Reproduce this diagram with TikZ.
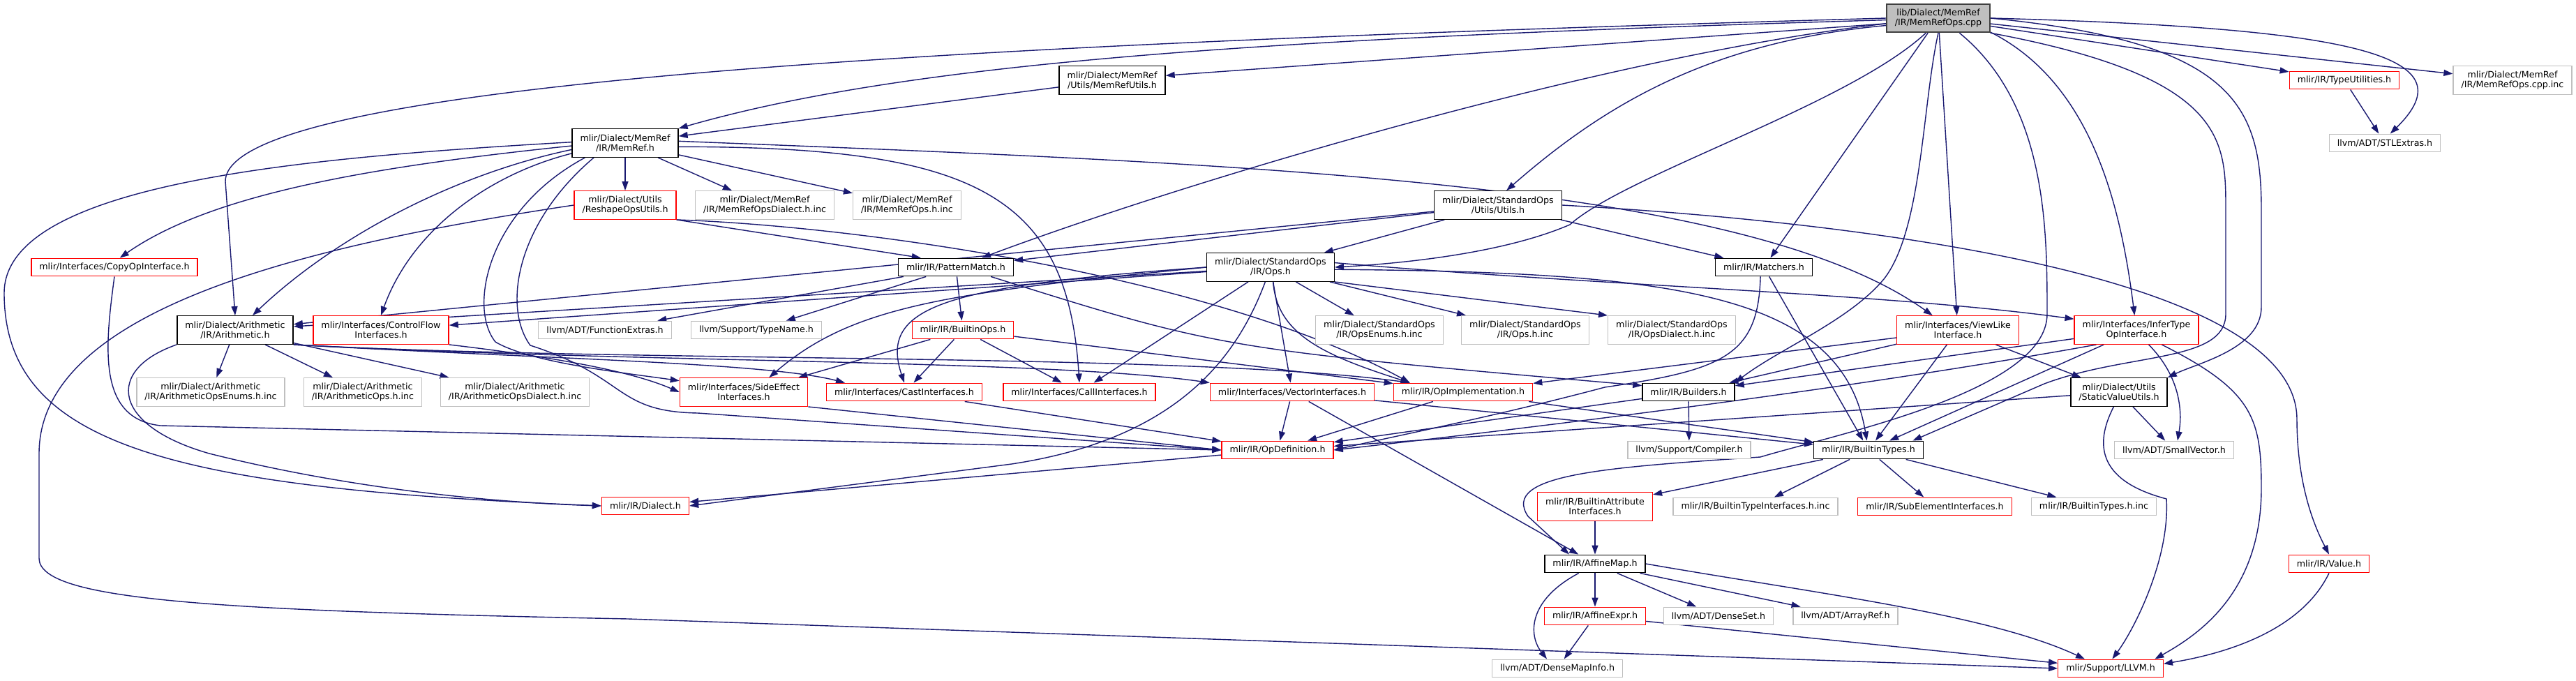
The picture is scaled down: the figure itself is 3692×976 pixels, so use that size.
\documentclass[tikz,border=0pt]{standalone}
\usepackage{fontspec}
\setmainfont{DejaVu Sans}
\usetikzlibrary{arrows.meta,backgrounds}
\definecolor{edgeBlue}{HTML}{191970}
\definecolor{cutRed}{HTML}{FF0000}
\definecolor{extGrey}{HTML}{BFBFBF}
\definecolor{rootGrey}{HTML}{BFBFBF}
\definecolor{rootEdge}{HTML}{404040}
\tikzset{
  hfile/.style={rectangle, align=center, inner xsep=0.115cm, inner ysep=0.03cm, minimum height=0.255cm, fill=white, line width=0.4pt, font=\fontsize{3.6pt}{3.98pt}\selectfont},
  docNode/.style={hfile, draw=black},
  cutNode/.style={hfile, draw=cutRed},
  extNode/.style={hfile, draw=extGrey},
  rootNode/.style={hfile, draw=rootEdge, fill=rootGrey, line width=0.55pt},
  twoRow/.style={minimum height=0.405cm},
  incl/.style={draw=edgeBlue, line width=0.4pt, -{Triangle[length=1.3mm,width=0.9mm]}}
}
\begin{document}
\begin{tikzpicture}[x=0.01cm,y=-0.01cm]
  \useasboundingbox (0,0) rectangle (3692,976);

  \node[rootNode,twoRow] (root) at (2778,26) {lib/Dialect/MemRef\\/IR/MemRefOps.cpp};
  \node[docNode,twoRow] (memrefutils) at (1594,115) {mlir/Dialect/MemRef\\/Utils/MemRefUtils.h};
  \node[cutNode] (typeutils) at (3360,115) {mlir/IR/TypeUtilities.h};
  \node[extNode,twoRow] (opscppinc) at (3601,115) {mlir/Dialect/MemRef\\/IR/MemRefOps.cpp.inc};
  \node[extNode] (stlextras) at (3418,205) {llvm/ADT/STLExtras.h};
  \node[docNode,twoRow] (memref) at (896,205) {mlir/Dialect/MemRef\\/IR/MemRef.h};
  \node[cutNode,twoRow] (reshape) at (896,294) {mlir/Dialect/Utils\\/ReshapeOpsUtils.h};
  \node[extNode,twoRow] (mrdialectinc) at (1096,294) {mlir/Dialect/MemRef\\/IR/MemRefOpsDialect.h.inc};
  \node[extNode,twoRow] (mropsinc) at (1300,294) {mlir/Dialect/MemRef\\/IR/MemRefOps.h.inc};
  \node[docNode,twoRow] (stdutils) at (2147,294) {mlir/Dialect/StandardOps\\/Utils/Utils.h};
  \node[cutNode] (copyop) at (164,383) {mlir/Interfaces/CopyOpInterface.h};
  \node[docNode] (patmatch) at (1370,383) {mlir/IR/PatternMatch.h};
  \node[docNode,twoRow] (stdops) at (1821,383) {mlir/Dialect/StandardOps\\/IR/Ops.h};
  \node[docNode] (matchers) at (2528,383) {mlir/IR/Matchers.h};
  \node[docNode,twoRow] (arith) at (337,473) {mlir/Dialect/Arithmetic\\/IR/Arithmetic.h};
  \node[cutNode,twoRow] (ctrlflow) at (546,473) {mlir/Interfaces/ControlFlow\\Interfaces.h};
  \node[extNode] (funcextras) at (867,473) {llvm/ADT/FunctionExtras.h};
  \node[extNode] (typename) at (1084,473) {llvm/Support/TypeName.h};
  \node[cutNode] (builtinops) at (1380,473) {mlir/IR/BuiltinOps.h};
  \node[extNode,twoRow] (opsenums) at (1977,473) {mlir/Dialect/StandardOps\\/IR/OpsEnums.h.inc};
  \node[extNode,twoRow] (opsinc) at (2186,473) {mlir/Dialect/StandardOps\\/IR/Ops.h.inc};
  \node[extNode,twoRow] (opsdialect) at (2396,473) {mlir/Dialect/StandardOps\\/IR/OpsDialect.h.inc};
  \node[cutNode,twoRow] (viewlike) at (2806,473) {mlir/Interfaces/ViewLike\\Interface.h};
  \node[cutNode,twoRow] (infertype) at (3062,473) {mlir/Interfaces/InferType\\OpInterface.h};
  \node[extNode,twoRow] (arenums) at (302,562) {mlir/Dialect/Arithmetic\\/IR/ArithmeticOpsEnums.h.inc};
  \node[extNode,twoRow] (arops) at (520,562) {mlir/Dialect/Arithmetic\\/IR/ArithmeticOps.h.inc};
  \node[extNode,twoRow] (ardialect) at (738,562) {mlir/Dialect/Arithmetic\\/IR/ArithmeticOpsDialect.h.inc};
  \node[cutNode,twoRow] (sideeffect) at (1066,562) {mlir/Interfaces/SideEffect\\Interfaces.h};
  \node[cutNode] (castif) at (1296,562) {mlir/Interfaces/CastInterfaces.h};
  \node[cutNode] (callif) at (1547,562) {mlir/Interfaces/CallInterfaces.h};
  \node[cutNode] (vectorif) at (1852,562) {mlir/Interfaces/VectorInterfaces.h};
  \node[cutNode] (opimpl) at (2097,562) {mlir/IR/OpImplementation.h};
  \node[docNode] (builders) at (2420,562) {mlir/IR/Builders.h};
  \node[docNode,twoRow] (staticval) at (3037,562) {mlir/Dialect/Utils\\/StaticValueUtils.h};
  \node[cutNode] (opdef) at (1831,645) {mlir/IR/OpDefinition.h};
  \node[extNode] (compiler) at (2421,645) {llvm/Support/Compiler.h};
  \node[docNode] (btypes) at (2678,645) {mlir/IR/BuiltinTypes.h};
  \node[extNode] (smallvec) at (3116,645) {llvm/ADT/SmallVector.h};
  \node[cutNode] (dialect) at (925,725) {mlir/IR/Dialect.h};
  \node[cutNode,twoRow] (battrif) at (2286,726) {mlir/IR/BuiltinAttribute\\Interfaces.h};
  \node[extNode] (btypeifinc) at (2516,726) {mlir/IR/BuiltinTypeInterfaces.h.inc};
  \node[cutNode] (subelem) at (2773,726) {mlir/IR/SubElementInterfaces.h};
  \node[extNode] (btypesinc) at (3001,726) {mlir/IR/BuiltinTypes.h.inc};
  \node[docNode] (affmap) at (2286,808) {mlir/IR/AffineMap.h};
  \node[cutNode] (value) at (3338,808) {mlir/IR/Value.h};
  \node[cutNode] (affexpr) at (2286,883) {mlir/IR/AffineExpr.h};
  \node[extNode] (denseset) at (2463,883) {llvm/ADT/DenseSet.h};
  \node[extNode] (arrayref) at (2645,883) {llvm/ADT/ArrayRef.h};
  \node[extNode] (densemap) at (2232,958) {llvm/ADT/DenseMapInfo.h};
  \node[cutNode] (llvmh) at (3025,958) {mlir/Support/LLVM.h};

  \begin{pgfonlayer}{background}
  % MemRefOps.cpp
  \draw[incl] (root.west) .. controls (1500,60) and (323,110) .. (323,260) -- (arith.north);
  \draw[incl] (root.182) .. controls (1800,55) and (1300,90) .. (memref.north east);
  \draw[incl] (root.186) -- (memrefutils.5);
  \draw[incl] (root.186) .. controls (2300,80) and (1700,260) .. (patmatch.20);
  \draw[incl] (root.188) .. controls (2450,60) and (2300,150) .. (stdutils.60);
  \draw[incl] (root.230) .. controls (2650,150) and (2330,250) .. (2250,322) .. controls (2150,365) and (2000,378) .. (stdops.east);
  \draw[incl] (root) -- (matchers);
  \draw[incl] (root) -- (viewlike);
  \draw[incl] (root.-15) .. controls (3000,120) and (3040,300) .. (infertype);
  \draw[incl] (root) -- (typeutils);
  \draw[incl] (root) -- (opscppinc);
  \draw[incl] (root.east) .. controls (3380,40) and (3540,80) .. (stlextras.60);
  \draw[incl] (root.south) .. controls (2755,150) and (2755,330) .. (2700,400) .. controls (2650,460) and (2550,500) .. (builders.north east);
  \draw[incl] (root.south east) .. controls (3190,110) and (3190,200) .. (3190,300) -- (3190,450) .. controls (3190,520) and (3050,505) .. (2930,550) -- (btypes.12);
  \draw[incl] (root.east) .. controls (3200,60) and (3241,150) .. (3241,300) -- (3241,440) .. controls (3241,500) and (3150,520) .. (staticval.north east);
  \draw[incl] (root.-35) .. controls (2934,150) and (2934,330) .. (2934,450) .. controls (2934,560) and (2640,620) .. (2523,655) .. controls (2300,670) and (2150,680) .. (2190,740) -- (affmap.160);
  \draw[incl] (memrefutils) -- (memref);
  \draw[incl] (typeutils) -- (stlextras);
  % MemRef.h
  \draw[incl] (memref) -- (reshape);
  \draw[incl] (memref) -- (mrdialectinc);
  \draw[incl] (memref) -- (mropsinc);
  \draw[incl] (memref.183) .. controls (520,240) and (300,280) .. (copyop.60);
  \draw[incl] (memref.187) .. controls (650,250) and (480,340) .. (arith.40);
  \draw[incl] (memref.191) .. controls (700,250) and (590,330) .. (ctrlflow.north);
  \draw[incl] (memref.179) .. controls (450,225) and (6,260) .. (6,420) .. controls (6,640) and (250,700) .. (dialect.west);
  \draw[incl] (memref.-4) .. controls (1400,210) and (1530,280) .. (callif.north);
  \draw[incl] (memref.2) .. controls (1800,235) and (2500,260) .. (viewlike.150);
  \draw[incl] (memref.200) .. controls (700,300) and (670,440) .. (710,490) .. controls (760,520) and (900,535) .. (sideeffect.170);
  \draw[incl] (memref.205) .. controls (740,320) and (720,440) .. (760,495) .. controls (900,540) and (880,590) .. (1000,592) -- (opdef.west);
  % ReshapeOpsUtils.h
  \draw[incl] (reshape.south east) -- (patmatch.165);
  \draw[incl] (reshape.south east) .. controls (1250,325) and (1750,400) .. (opimpl.170);
  \draw[incl] (reshape.west) .. controls (450,350) and (56,440) .. (56,650) -- (56,800) .. controls (56,860) and (300,875) .. (900,887) -- (llvmh.west);
  % StandardOps/Utils/Utils.h
  \draw[incl] (stdutils) -- (arith);
  \draw[incl] (stdutils) -- (patmatch);
  \draw[incl] (stdutils) -- (stdops);
  \draw[incl] (stdutils) -- (matchers);
  \draw[incl] (stdutils.east) .. controls (2700,320) and (3290,400) .. (3292,600) .. controls (3292,700) and (3320,760) .. (value.north);
  \draw[incl] (copyop.south) .. controls (150,500) and (140,600) .. (230,610) -- (opdef.west);
  % Arithmetic.h
  \draw[incl] (arith) -- (arenums);
  \draw[incl] (arith) -- (arops);
  \draw[incl] (arith) -- (ardialect);
  \draw[incl] (arith.south west) .. controls (150,530) and (160,610) .. (300,650) .. controls (500,700) and (700,720) .. (dialect.west);
  \draw[incl] (arith.south east) .. controls (800,515) and (1100,520) .. (castif.171);
  \draw[incl] (arith.south east) .. controls (900,520) and (1500,515) .. (vectorif.north west);
  \draw[incl] (arith.south east) .. controls (900,520) and (1700,505) .. (opimpl.170);
  \draw[incl] (ctrlflow.south east) .. controls (780,510) and (900,530) .. (sideeffect.west);
  % PatternMatch.h, BuiltinOps.h
  \draw[incl] (patmatch) -- (funcextras);
  \draw[incl] (patmatch) -- (typename);
  \draw[incl] (patmatch) -- (builtinops);
  \draw[incl] (patmatch.-15) .. controls (1750,500) .. (builders.172);
  \draw[incl] (builtinops) -- (sideeffect.15);
  \draw[incl] (builtinops) -- (castif.45);
  \draw[incl] (builtinops) -- (callif);
  \draw[incl] (builtinops) -- (opimpl);
  % StandardOps/IR/Ops.h
  \draw[incl] (stdops) -- (arith);
  \draw[incl] (stdops) -- (ctrlflow);
  \draw[incl] (stdops.west) .. controls (1350,420) and (1220,440) .. (sideeffect.30);
  \draw[incl] (stdops.west) .. controls (1350,410) and (1260,440) .. (castif.north);
  \draw[incl] (stdops) -- (callif);
  \draw[incl] (stdops) -- (vectorif);
  \draw[incl] (stdops.-80) .. controls (1830,480) and (1900,510) .. (opimpl.170);
  \draw[incl] (stdops.250) .. controls (1770,520) and (1680,630) .. (1450,665) -- (dialect.east);
  \draw[incl] (stdops.-2) .. controls (2400,390) and (2640,420) .. (btypes.100);
  \draw[incl] (stdops.4) .. controls (2300,410) and (2700,420) .. (infertype.170);
  \draw[incl] (stdops) -- (opsenums);
  \draw[incl] (stdops) -- (opsinc);
  \draw[incl] (stdops.south east) -- (opsdialect.north west);
  % Matchers.h
  \draw[incl] (matchers) -- (btypes);
  \draw[incl] (matchers.250) .. controls (2520,510) and (2470,530) .. (2300,555) .. controls (2150,595) and (2000,625) .. (opdef.east);
  % interfaces
  \draw[incl] (viewlike) -- (builders);
  \draw[incl] (viewlike) -- (btypes);
  \draw[incl] (viewlike) -- (staticval);
  \draw[incl] (viewlike) -- (opimpl);
  \draw[incl] (infertype) -- (builders);
  \draw[incl] (infertype.200) .. controls (2750,540) and (2400,590) .. (opdef.east);
  \draw[incl] (infertype) -- (btypes);
  \draw[incl] (infertype.-50) .. controls (3125,540) and (3128,590) .. (smallvec.70);
  \draw[incl] (infertype.-30) .. controls (3230,560) and (3241,600) .. (3241,700) .. controls (3241,850) and (3150,910) .. (llvmh.12);
  \draw[incl] (staticval) -- (opdef);
  \draw[incl] (staticval) -- (smallvec);
  \draw[incl] (staticval.250) .. controls (3000,640) and (3010,690) .. (3105,715) .. controls (3110,800) and (3060,900) .. (llvmh.80);
  \draw[incl] (vectorif) -- (opdef);
  \draw[incl] (vectorif) -- (affmap);
  \draw[incl] (vectorif) -- (btypes);
  \draw[incl] (opimpl) -- (opdef);
  \draw[incl] (opimpl) -- (btypes);
  \draw[incl] (builders) -- (opdef);
  \draw[incl] (builders) -- (compiler);
  \draw[incl] (sideeffect.south east) -- (opdef.west);
  \draw[incl] (castif) -- (opdef);
  \draw[incl] (opdef) -- (dialect);
  % BuiltinTypes.h, AffineMap.h
  \draw[incl] (btypes) -- (battrif);
  \draw[incl] (btypes) -- (btypeifinc);
  \draw[incl] (btypes) -- (subelem);
  \draw[incl] (btypes) -- (btypesinc);
  \draw[incl] (battrif) -- (affmap);
  \draw[incl] (affmap) -- (affexpr);
  \draw[incl] (affmap) -- (denseset);
  \draw[incl] (affmap) -- (arrayref);
  \draw[incl] (affmap.210) .. controls (2190,860) and (2190,910) .. (densemap.138);
  \draw[incl] (affmap.east) .. controls (2600,850) and (2850,880) .. (llvmh.160);
  \draw[incl] (affexpr) -- (densemap);
  \draw[incl] (affexpr) -- (llvmh);
  \draw[incl] (value.south) .. controls (3300,900) and (3200,935) .. (llvmh.5);
  \end{pgfonlayer}
\end{tikzpicture}
\end{document}
